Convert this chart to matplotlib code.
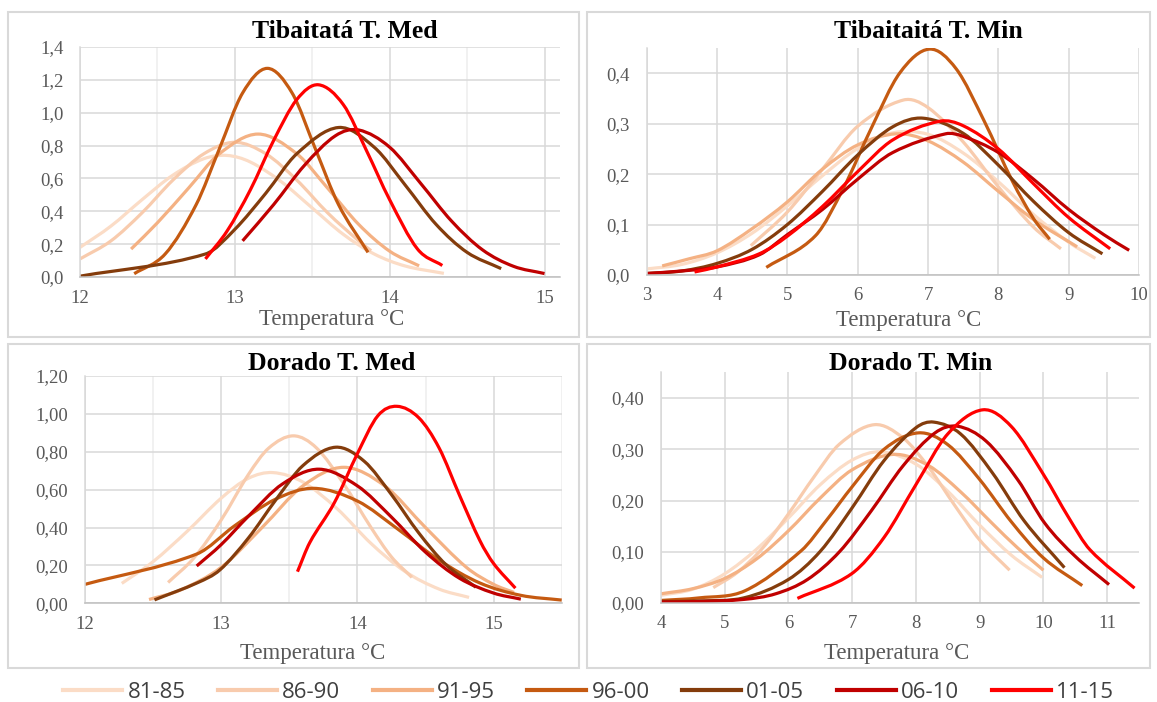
import numpy as np
import matplotlib
matplotlib.use("Agg")
import matplotlib.pyplot as plt
from matplotlib.path import Path
from matplotlib.patches import PathPatch, Rectangle
from matplotlib.lines import Line2D
from matplotlib.ticker import FuncFormatter, MultipleLocator

periods = ['81-85', '86-90', '91-95', '96-00', '01-05', '06-10', '11-15']
colors = ['#FBDCC6', '#F8CBAD', '#F4B183', '#C55A11', '#843C0C', '#C00000', '#FF0000']

# Tibaitatá T. Med  (one list per period, same order as `periods`)
tib_med_x = [
    [12.0, 12.2, 12.4, 12.6, 12.8, 12.95, 13.1, 13.3, 13.5, 13.7, 13.9, 14.1, 14.35],
    [12.0, 12.2, 12.4, 12.6, 12.8, 13.0, 13.2, 13.4, 13.6, 13.8, 13.88],
    [12.33, 12.5, 12.7, 12.9, 13.15, 13.4, 13.6, 13.8, 14.0, 14.19],
    [12.35, 12.55, 12.75, 12.9, 13.05, 13.21, 13.37, 13.52, 13.67, 13.86],
    [12.0, 12.81, 13.0, 13.2, 13.4, 13.67, 13.9, 14.1, 14.3, 14.5, 14.72],
    [13.05, 13.25, 13.45, 13.65, 13.8, 14.0, 14.2, 14.4, 14.6, 14.8, 15.0],
    [12.81, 12.95, 13.1, 13.25, 13.4, 13.54, 13.7, 13.85, 14.0, 14.18, 14.34],
]
tib_med_y = [
    [0.18, 0.31, 0.47, 0.62, 0.72, 0.74, 0.70, 0.58, 0.42, 0.26, 0.14, 0.067, 0.022],
    [0.11, 0.22, 0.39, 0.59, 0.75, 0.82, 0.75, 0.59, 0.39, 0.22, 0.16],
    [0.17, 0.33, 0.54, 0.75, 0.87, 0.75, 0.54, 0.32, 0.157, 0.068],
    [0.02, 0.14, 0.44, 0.78, 1.12, 1.27, 1.12, 0.78, 0.44, 0.15],
    [0.005, 0.14, 0.29, 0.51, 0.75, 0.91, 0.79, 0.56, 0.32, 0.15, 0.051],
    [0.22, 0.44, 0.68, 0.86, 0.895, 0.79, 0.57, 0.34, 0.165, 0.065, 0.021],
    [0.11, 0.28, 0.53, 0.83, 1.08, 1.17, 1.05, 0.77, 0.47, 0.17, 0.07],
]

# Tibaitaitá T. Min
tib_min_x = [
    [3.0, 3.5, 4.0, 4.5, 5.0, 5.5, 6.0, 6.5, 7.0, 7.5, 8.0, 8.5, 9.0, 9.38],
    [4.48, 5.0, 5.5, 6.0, 6.65, 7.0, 7.5, 8.0, 8.5, 8.89],
    [3.22, 3.6, 4.0, 4.5, 5.0, 5.5, 6.0, 6.55, 7.0, 7.5, 8.0, 8.5, 9.12],
    [4.7, 5.4, 5.8, 6.2, 6.6, 7.02, 7.4, 7.8, 8.2, 8.5, 8.73],
    [3.0, 3.5, 4.0, 4.5, 5.0, 5.5, 6.0, 6.5, 6.93, 7.5, 8.0, 8.5, 9.0, 9.48],
    [3.0, 3.5, 4.0, 4.6, 5.0, 5.5, 6.0, 6.5, 7.25, 7.5, 8.0, 8.5, 9.0, 9.5, 9.86],
    [3.68, 4.0, 4.6, 5.0, 5.5, 6.0, 6.5, 7.17, 7.5, 8.0, 8.5, 9.0, 9.59],
]
tib_min_y = [
    [0.012, 0.021, 0.044, 0.083, 0.137, 0.197, 0.251, 0.282, 0.279, 0.242, 0.185, 0.12, 0.065, 0.033],
    [0.058, 0.125, 0.21, 0.295, 0.347, 0.332, 0.264, 0.175, 0.095, 0.052],
    [0.018, 0.032, 0.048, 0.092, 0.145, 0.21, 0.258, 0.28, 0.266, 0.224, 0.166, 0.11, 0.056],
    [0.015, 0.078, 0.173, 0.293, 0.401, 0.448, 0.409, 0.305, 0.186, 0.112, 0.071],
    [0.003, 0.008, 0.023, 0.051, 0.10, 0.166, 0.238, 0.294, 0.311, 0.281, 0.218, 0.146, 0.084, 0.042],
    [0.003, 0.008, 0.016, 0.04, 0.08, 0.13, 0.19, 0.243, 0.28, 0.275, 0.243, 0.19, 0.13, 0.08, 0.049],
    [0.006, 0.016, 0.042, 0.077, 0.136, 0.205, 0.268, 0.305, 0.296, 0.25, 0.181, 0.114, 0.052],
]

# Dorado T. Med
dor_med_x = [
    [12.27, 12.5, 12.75, 13.0, 13.2, 13.38, 13.6, 13.85, 14.1, 14.35, 14.6, 14.82],
    [12.61, 12.8, 13.0, 13.2, 13.35, 13.53, 13.7, 13.9, 14.1, 14.25, 14.4],
    [12.47, 12.7, 13.0, 13.3, 13.6, 13.9, 14.2, 14.5, 14.8, 15.0, 15.15],
    [12.0, 12.82, 13.1, 13.4, 13.68, 14.0, 14.3, 14.6, 14.9, 15.2, 15.5],
    [12.51, 12.83, 12.99, 13.2, 13.4, 13.6, 13.84, 14.05, 14.25, 14.45, 14.65, 14.87],
    [12.82, 13.0, 13.2, 13.45, 13.72, 14.0, 14.25, 14.5, 14.75, 15.0, 15.2],
    [13.56, 13.65, 13.83, 14.0, 14.15, 14.29, 14.45, 14.6, 14.75, 14.9, 15.0, 15.16],
]
dor_med_y = [
    [0.105, 0.22, 0.38, 0.555, 0.66, 0.69, 0.64, 0.50, 0.316, 0.168, 0.075, 0.031],
    [0.11, 0.24, 0.44, 0.68, 0.82, 0.884, 0.82, 0.63, 0.40, 0.245, 0.137],
    [0.02, 0.07, 0.19, 0.40, 0.62, 0.718, 0.62, 0.40, 0.19, 0.10, 0.057],
    [0.10, 0.26, 0.41, 0.55, 0.607, 0.54, 0.39, 0.228, 0.107, 0.042, 0.017],
    [0.018, 0.11, 0.176, 0.345, 0.545, 0.727, 0.824, 0.75, 0.574, 0.372, 0.204, 0.085],
    [0.197, 0.31, 0.46, 0.63, 0.708, 0.62, 0.455, 0.27, 0.132, 0.054, 0.022],
    [0.167, 0.32, 0.53, 0.79, 0.99, 1.04, 0.98, 0.82, 0.57, 0.33, 0.21, 0.08],
]

# Dorado T. Min
dor_min_x = [
    [4.0, 4.5, 5.0, 5.5, 6.0, 6.5, 7.0, 7.45, 8.0, 8.5, 9.0, 9.5, 9.98],
    [4.82, 5.2, 5.6, 6.0, 6.4, 6.8, 7.35, 7.8, 8.2, 8.6, 9.0, 9.47],
    [4.0, 4.5, 5.0, 5.5, 6.0, 6.5, 7.0, 7.65, 8.2, 8.7, 9.2, 9.6, 10.0],
    [4.0, 4.6, 5.32, 6.2, 6.6, 7.0, 7.5, 8.04, 8.5, 9.0, 9.5, 10.0, 10.61],
    [4.0, 4.6, 5.3, 6.0, 6.5, 7.0, 7.5, 8.0, 8.28, 8.7, 9.2, 9.7, 10.33],
    [4.0, 4.6, 5.3, 5.8, 6.3, 6.8, 7.3, 7.8, 8.3, 8.65, 9.1, 9.6, 10.02, 10.5, 11.03],
    [6.14, 6.99, 7.5, 8.0, 8.5, 9.05, 9.5, 10.0, 10.4, 10.73, 11.43],
]
dor_min_y = [
    [0.015, 0.027, 0.057, 0.105, 0.166, 0.231, 0.279, 0.295, 0.271, 0.218, 0.152, 0.093, 0.05],
    [0.03, 0.06, 0.108, 0.174, 0.246, 0.31, 0.348, 0.322, 0.265, 0.192, 0.123, 0.064],
    [0.018, 0.028, 0.048, 0.086, 0.141, 0.205, 0.26, 0.29, 0.268, 0.217, 0.155, 0.107, 0.064],
    [0.005, 0.01, 0.024, 0.102, 0.162, 0.227, 0.30, 0.332, 0.309, 0.241, 0.158, 0.088, 0.034],
    [0.003, 0.004, 0.01, 0.046, 0.101, 0.186, 0.278, 0.342, 0.353, 0.33, 0.254, 0.16, 0.069],
    [0.002, 0.003, 0.007, 0.018, 0.046, 0.10, 0.18, 0.268, 0.332, 0.345, 0.316, 0.24, 0.156, 0.091, 0.036],
    [0.009, 0.057, 0.128, 0.231, 0.33, 0.377, 0.344, 0.251, 0.166, 0.104, 0.029],
]

W, H = 1157, 702
SERIF = ['Liberation Serif', 'DejaVu Serif']
GREY = '#595959'


def smooth_path(xs, ys):
    # smoothed line like Excel: cubic pieces through each read point
    xs = np.asarray(xs, float)
    ys = np.asarray(ys, float)
    n = len(xs)
    m = np.empty(n)
    m[0] = (ys[1] - ys[0]) / (xs[1] - xs[0])
    m[-1] = (ys[-1] - ys[-2]) / (xs[-1] - xs[-2])
    for i in range(1, n - 1):
        m[i] = (ys[i + 1] - ys[i - 1]) / (xs[i + 1] - xs[i - 1])
    verts = [(xs[0], ys[0])]
    codes = [Path.MOVETO]
    for i in range(n - 1):
        d = (xs[i + 1] - xs[i]) / 3
        verts += [(xs[i] + d, ys[i] + d * m[i]),
                  (xs[i + 1] - d, ys[i + 1] - d * m[i + 1]),
                  (xs[i + 1], ys[i + 1])]
        codes += [Path.CURVE4] * 3
    return Path(verts, codes)


def px_box(l, t, r, b):
    return [l / W, 1 - b / H, (r - l) / W, (b - t) / H]


fig = plt.figure(figsize=(W / 100, H / 100), dpi=100)
fig.patch.set_facecolor('white')

# panel frames
for (l, t, r, b) in [(8, 12, 579, 337), (587, 12, 1150, 337),
                     (8, 344, 579, 668), (587, 344, 1150, 668)]:
    fig.patches.append(Rectangle((l / W, 1 - b / H), (r - l) / W, (b - t) / H,
                                 transform=fig.transFigure, fill=False,
                                 edgecolor='#D9D9D9', lw=1.5))

panels = [
    dict(box=px_box(80, 47, 560, 277), xs=tib_med_x, ys=tib_med_y,
         xlim=(12, 15.1), ylim=(0, 1.4), ystep=0.2, dec=1, half=True,
         title='Tibaitatá T. Med', tpos=(345, 32), lpos=(332, 320)),
    dict(box=px_box(646.7, 48.1, 1139, 275), xs=tib_min_x, ys=tib_min_y,
         xlim=(3, 10), ylim=(0, 0.45), ystep=0.1, dec=1, half=False,
         title='Tibaitaitá T. Min', tpos=(928, 32), lpos=(909, 321)),
    dict(box=px_box(85, 376, 561.7, 603.3), xs=dor_med_x, ys=dor_med_y,
         xlim=(12, 15.5), ylim=(0, 1.2), ystep=0.2, dec=2, half=True,
         title='Dorado T. Med', tpos=(332, 363.5), lpos=(313, 653)),
    dict(box=px_box(661, 372.4, 1139, 603), xs=dor_min_x, ys=dor_min_y,
         xlim=(4, 11.5), ylim=(0, 0.45), ystep=0.1, dec=2, half=False,
         title='Dorado T. Min', tpos=(911, 363.5), lpos=(897, 653)),
]

for p in panels:
    ax = fig.add_axes(p['box'])
    ax.set_xlim(*p['xlim'])
    ax.set_ylim(*p['ylim'])
    ax.xaxis.set_major_locator(MultipleLocator(1))
    if p['half']:
        ax.xaxis.set_minor_locator(MultipleLocator(0.5))
        ax.grid(True, which='minor', axis='x', color='#EDEDED', lw=1.1)
    ax.yaxis.set_major_locator(MultipleLocator(p['ystep']))
    dec = p['dec']
    ax.yaxis.set_major_formatter(FuncFormatter(lambda v, pos, d=dec: f'{v:.{d}f}'.replace('.', ',')))
    ax.grid(True, which='major', color='#D9D9D9', lw=1.1)
    ax.set_axisbelow(True)
    for s in ['top', 'right']:
        ax.spines[s].set_visible(False)
    ax.spines['left'].set_color('#D9D9D9')
    ax.spines['bottom'].set_color('#BFBFBF')
    ax.spines['left'].set_linewidth(1.1)
    ax.spines['bottom'].set_linewidth(1.1)
    ax.tick_params(which='both', length=0, labelsize=13.5, labelcolor=GREY)
    ax.tick_params(axis='x', pad=9)
    ax.tick_params(axis='y', pad=12)
    for lab in ax.get_xticklabels() + ax.get_yticklabels():
        lab.set_family(SERIF)
    for xs, ys, c in zip(p['xs'], p['ys'], colors):
        ax.add_patch(PathPatch(smooth_path(xs, ys), fill=False, edgecolor=c,
                               lw=2.3, joinstyle='round', capstyle='butt'))
    tx, ty = p['tpos']
    fig.text(tx / W, 1 - ty / H, p['title'], ha='center', va='center',
             fontsize=18.5, fontweight='bold', family=SERIF, color='black')
    lx, ly = p['lpos']
    fig.text(lx / W, 1 - ly / H, 'Temperatura °C', ha='center', va='center',
             fontsize=16.5, family=SERIF, color=GREY)

handles = [Line2D([], [], color=c, lw=3) for c in colors]
fig.legend(handles, periods, loc='center', bbox_to_anchor=(588.5 / W, 1 - 692 / H),
           ncol=7, frameon=False, handlelength=2.66, handletextpad=0.23,
           columnspacing=1.46, prop={'family': ['Open Sans', 'DejaVu Sans'], 'size': 16},
           labelcolor='#404040')

fig.savefig('out.png', dpi=100)
